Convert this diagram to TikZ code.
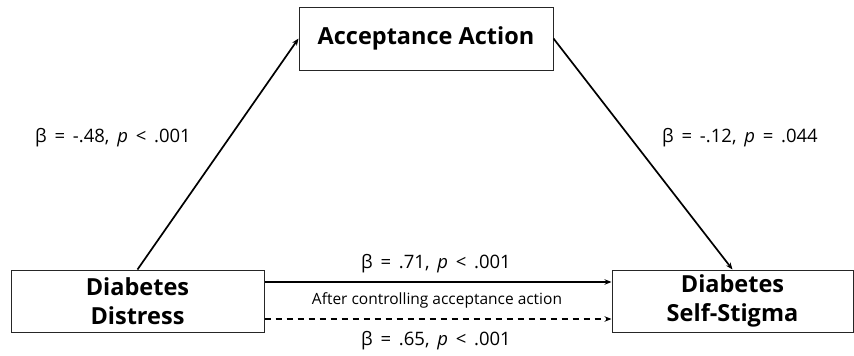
\documentclass[tikz,border=0pt]{standalone}
\usepackage{fontspec}
\setmainfont{Open Sans}
\usetikzlibrary{arrows.meta}
\newcommand{\wsp}{\hspace{0.42em}}
\begin{document}
\begin{tikzpicture}[x=1pt,y=-1pt,
  box/.style={draw=black!85, line width=1pt, inner sep=0pt, align=center,
    font=\fontsize{23.5}{29}\selectfont\bfseries},
  arr/.style={line width=1.7pt, -{Stealth[length=7pt,width=5.5pt]}},
  lbl/.style={inner sep=0pt, font=\fontsize{18.5}{22}\selectfont},
  small/.style={inner sep=0pt, font=\fontsize{15.5}{18}\selectfont}]
\useasboundingbox (0,0) rectangle (854,356);
\node[box, minimum width=254pt, minimum height=63pt] (aa) at (426,38.5) {Acceptance Action};
\node[box, minimum width=253pt, minimum height=62pt] (dd) at (137.5,301) {Diabetes\\Distress};
\node[box, minimum width=241pt, minimum height=62pt] (ss) at (732.5,301) {Diabetes\\Self-Stigma};
\draw[arr] (dd.north) -- (aa.west);
\draw[arr] (aa.east) -- (ss.north);
\draw[arr] ([yshift=19pt]dd.east) -- ([yshift=19pt]ss.west);
\draw[arr, dash pattern=on 6pt off 5pt] ([yshift=-18pt]dd.east) -- ([yshift=-18pt]ss.west);
\node[lbl] (l1) at (113,138) {β\wsp=\wsp-.48,\wsp\textit{p}\wsp<\wsp.001};
\node[lbl] (l2) at (740,138) {β\wsp=\wsp-.12,\wsp\textit{p}\wsp=\wsp.044};
\node[lbl] (l3) at (436,264) {β\wsp=\wsp.71,\wsp\textit{p}\wsp<\wsp.001};
\node[small] (l4) at (437,300) {After controlling acceptance action};
\node[lbl] (l5) at (436,341) {β\wsp=\wsp.65,\wsp\textit{p}\wsp<\wsp.001};
\end{tikzpicture}
\end{document}
